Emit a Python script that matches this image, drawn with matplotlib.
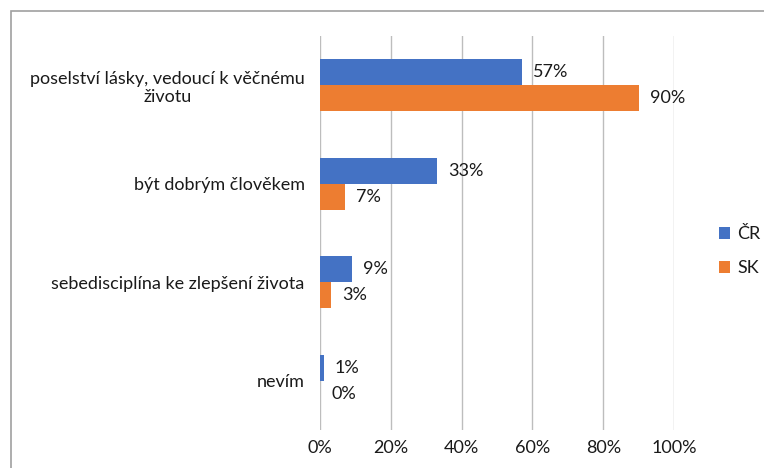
import matplotlib.pyplot as plt
from matplotlib.patches import Rectangle
import numpy as np

# data
kategorie = ['poselství lásky, vedoucí k věčnému\nživotu', 'být dobrým člověkem',
             'sebedisciplína ke zlepšení života', 'nevím']
cr = [0.57, 0.33, 0.09, 0.01]
sk = [0.90, 0.07, 0.03, 0.00]
serie = ['ČR', 'SK']
xticks = [0, 0.2, 0.4, 0.6, 0.8, 1.0]

plt.rcParams['font.family'] = ['Lato', 'DejaVu Sans']
plt.rcParams['font.size'] = 13
txt = '#1a1a1a'

fig = plt.figure(figsize=(7.64, 4.68), dpi=100)
ax = fig.add_axes([320/764, 1-430/468, 354/764, 394/468])

# frame around the chart area
fig.patches.append(Rectangle((11/764, -0.1), 1.1, 1-11/468+0.1, transform=fig.transFigure,
                             fill=False, edgecolor='#a0a0a0', linewidth=1.2))

y = np.arange(len(kategorie))
h = 0.265
b1 = ax.barh(y - h/2, cr, height=h, color='#4472C4', label=serie[0])
b2 = ax.barh(y + h/2, sk, height=h, color='#ED7D31', label=serie[1])

for bars in (b1, b2):
    for r in bars:
        w = r.get_width()
        ax.annotate(f'{w*100:.0f}%', (w, r.get_y() + r.get_height()/2),
                    xytext=(8, 0), textcoords='offset points',
                    va='center', ha='left', color=txt, fontsize=13)

ax.set_xlim(0, 1)
ax.set_ylim(len(kategorie) - 0.5, -0.5)
ax.set_xticks(xticks)
ax.set_xticklabels([f'{int(t*100)}%' for t in xticks], color=txt)
ax.set_yticks(y)
ax.set_yticklabels(kategorie, color=txt, multialignment='center')
ax.tick_params(axis='x', length=0, pad=7)
ax.tick_params(axis='y', length=0, pad=11)
ax.grid(axis='x', color='#bdbdbd', linewidth=1)
ax.set_axisbelow(True)
for s in ax.spines.values():
    s.set_visible(False)

leg = fig.legend(handles=[b1, b2], loc='upper left', bbox_to_anchor=(703/764, 1-210/468),
                 frameon=False, handlelength=0.6, handleheight=0.6, labelspacing=1.0,
                 handletextpad=0.4, fontsize=13)
for t in leg.get_texts():
    t.set_color(txt)

fig.savefig('out.png', dpi=100)
